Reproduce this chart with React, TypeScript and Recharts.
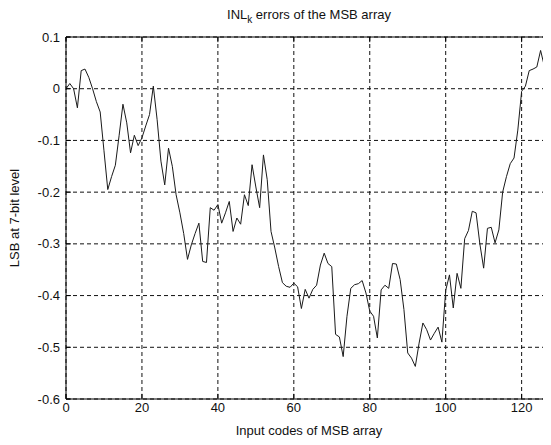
import React from 'react';
import {
  LineChart,
  Line,
  XAxis,
  YAxis,
  CartesianGrid,
  ReferenceLine,
  Label,
} from 'recharts';

// INL_k per input code of the MSB array
const inlValues = [
  0.0, 0.01, 0.0, -0.037, 0.035, 0.038, 0.022, 0.0, -0.025, -0.045,
  -0.12, -0.195, -0.17, -0.148, -0.09, -0.03, -0.066, -0.124, -0.09, -0.11,
  -0.095, -0.072, -0.05, 0.005, -0.06, -0.14, -0.186, -0.115, -0.15, -0.205,
  -0.24, -0.28, -0.33, -0.302, -0.28, -0.26, -0.334, -0.336, -0.23, -0.235,
  -0.224, -0.26, -0.24, -0.218, -0.276, -0.25, -0.262, -0.205, -0.226, -0.147,
  -0.19, -0.23, -0.128, -0.176, -0.276, -0.308, -0.344, -0.375, -0.382, -0.384,
  -0.376, -0.383, -0.425, -0.388, -0.405, -0.388, -0.38, -0.341, -0.318, -0.338,
  -0.344, -0.475, -0.48, -0.518, -0.44, -0.386, -0.379, -0.377, -0.371, -0.395,
  -0.43, -0.44, -0.482, -0.389, -0.38, -0.386, -0.338, -0.339, -0.369, -0.427,
  -0.511, -0.521, -0.537, -0.492, -0.453, -0.466, -0.486, -0.473, -0.461, -0.49,
  -0.39, -0.36, -0.424, -0.357, -0.386, -0.29, -0.274, -0.237, -0.24, -0.3,
  -0.347, -0.27, -0.268, -0.298, -0.273, -0.2, -0.17, -0.145, -0.134, -0.08,
  -0.005, 0.005, 0.035, 0.038, 0.042, 0.074, 0.043, 0.025, 0.01,
];

const xTicks = [0, 20, 40, 60, 80, 100, 120];
const yTicks = [-0.6, -0.5, -0.4, -0.3, -0.2, -0.1, 0, 0.1];

const X_MAX = 128;
const Y_MIN = -0.6;
const Y_MAX = 0.1;

const data = inlValues.map((v, i) => ({ code: i, inl: v }));

const FONT = '"Liberation Sans", Arial, sans-serif';
const tickStyle = { fontSize: 13, fill: '#111', fontFamily: FONT };

export default function App() {
  return (
    <div style={{ position: 'relative', width: 544, height: 437, fontFamily: FONT }}>
      <div
        style={{
          position: 'absolute',
          left: 58,
          width: 486,
          top: 0,
          textAlign: 'center',
          fontSize: 13,
          color: '#111',
          lineHeight: '14px',
        }}
      >
        INL<sub style={{ fontSize: 10 }}>k</sub> errors of the MSB array
      </div>
      <LineChart
        width={544}
        height={437}
        data={data}
        margin={{ top: 29, right: 0, bottom: 0, left: 0 }}
      >
        <CartesianGrid stroke="#111" strokeDasharray="4 3" />
        <XAxis
          dataKey="code"
          type="number"
          domain={[0, X_MAX]}
          ticks={xTicks}
          allowDataOverflow
          height={46}
          tickLine={false}
          tickSize={0}
          tickMargin={4}
          axisLine={{ stroke: '#000' }}
          tick={tickStyle}
        >
          <Label
            value="Input codes of MSB array"
            position="center"
            dy={8}
            style={{ fontSize: 13, fill: '#111', fontFamily: FONT }}
          />
        </XAxis>
        <YAxis
          type="number"
          domain={[Y_MIN, Y_MAX]}
          ticks={yTicks}
          allowDataOverflow
          width={58}
          tickLine={false}
          tickSize={0}
          tickMargin={6}
          axisLine={{ stroke: '#000' }}
          tick={tickStyle}
        >
          <Label
            value="LSB at 7-bit level"
            position="center"
            angle={-90}
            dx={-23}
            style={{ fontSize: 13, fill: '#111', fontFamily: FONT, textAnchor: 'middle' }}
          />
        </YAxis>
        {/* box: top and right edges */}
        <ReferenceLine y={Y_MAX} stroke="#000" />
        <ReferenceLine x={X_MAX} stroke="#000" />
        {/* inward tick marks */}
        {yTicks.map((t) => (
          <ReferenceLine
            key={'yt' + t}
            segment={[{ x: 0, y: t }, { x: 1.3, y: t }]}
            stroke="#000"
          />
        ))}
        {xTicks.map((t) => (
          <ReferenceLine
            key={'xb' + t}
            segment={[{ x: t, y: Y_MIN }, { x: t, y: Y_MIN + 0.01 }]}
            stroke="#000"
          />
        ))}
        {xTicks.map((t) => (
          <ReferenceLine
            key={'xt' + t}
            segment={[{ x: t, y: Y_MAX }, { x: t, y: Y_MAX - 0.01 }]}
            stroke="#000"
          />
        ))}
        <Line
          type="linear"
          dataKey="inl"
          stroke="#1a1a1a"
          strokeWidth={1}
          dot={false}
          isAnimationActive={false}
        />
      </LineChart>
    </div>
  );
}
